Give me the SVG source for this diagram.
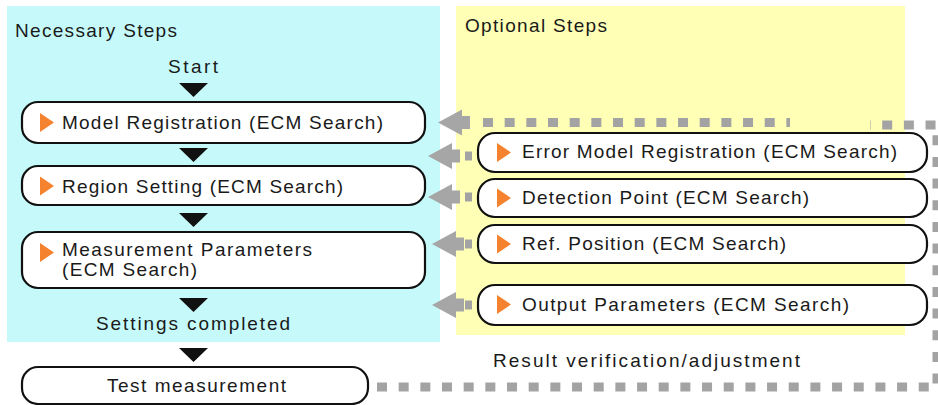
<svg xmlns="http://www.w3.org/2000/svg" xmlns:xlink="http://www.w3.org/1999/xlink" width="938" height="405" viewBox="0 0 938 405">
<style>
.t{font-family:"Liberation Sans",Arial,sans-serif;font-size:19px;fill:#1a1a1a}
.node{fill:#fff;stroke:#111;stroke-width:2.2}
.dash{fill:none;stroke:#a3a3a3;stroke-width:9;stroke-dasharray:10 11.67}
.garrow{fill:#a6a6a6}
.orange{fill:#f5822f}
.blk{fill:#111}
</style>
<defs>
<path id="otri" d="M0,-9.5 L14,0 L0,9.5 Z"/>
<path id="gar" d="M0,0 L24,-13 L24,-6.5 L32,-6.5 L32,6.5 L24,6.5 L24,13 Z"/>
<path id="btri" d="M-14.5,0 L14.5,0 L0,14 Z"/>
</defs>

<g id="panels">
<rect x="7" y="6" width="433" height="336" fill="#c6fafa"/>
<rect x="456" y="6" width="449" height="329" fill="#ffffb6"/>
<text class="t" x="15" y="37" textLength="162" lengthAdjust="spacing">Necessary Steps</text>
<text class="t" x="465" y="32" textLength="142" lengthAdjust="spacing">Optional Steps</text>
</g>

<g id="connectors">
<path class="dash" d="M483,122.5 H790"/>
<path class="dash" d="M377,387 H937 V125 H870"/>
<use href="#gar" class="garrow" x="438" y="122.5"/>
<use href="#gar" class="garrow" x="428" y="156"/>
<rect x="465" y="151.5" width="7" height="9" fill="#a3a3a3"/>
<use href="#gar" class="garrow" x="428" y="197"/>
<rect x="465" y="192.5" width="7" height="9" fill="#a3a3a3"/>
<use href="#gar" class="garrow" x="432" y="244"/>
<rect x="465" y="239.5" width="7" height="9" fill="#a3a3a3"/>
<use href="#gar" class="garrow" x="432" y="305"/>
<rect x="465" y="300.5" width="7" height="9" fill="#a3a3a3"/>
<use href="#btri" class="blk" x="193.5" y="83"/>
<use href="#btri" class="blk" x="193.5" y="148"/>
<use href="#btri" class="blk" x="193.5" y="213"/>
<use href="#btri" class="blk" x="193.5" y="298"/>
<use href="#btri" class="blk" x="193.5" y="348"/>
</g>

<g id="start">
<text class="t" x="168" y="73" textLength="50" lengthAdjust="spacing">Start</text>
</g>

<g id="model-registration">
<rect class="node" x="22" y="102" width="403" height="41" rx="16"/>
<use href="#otri" class="orange" x="40" y="122.5"/>
<text class="t" x="62" y="129" textLength="321" lengthAdjust="spacing">Model Registration (ECM Search)</text>
</g>

<g id="region-setting">
<rect class="node" x="22" y="166" width="403" height="39" rx="16"/>
<use href="#otri" class="orange" x="40" y="186"/>
<text class="t" x="62" y="192.5" textLength="281" lengthAdjust="spacing">Region Setting (ECM Search)</text>
</g>

<g id="measurement-parameters">
<rect class="node" x="22" y="232" width="403" height="56" rx="16"/>
<use href="#otri" class="orange" x="40" y="252.5"/>
<text class="t" x="62" y="255.5" textLength="250" lengthAdjust="spacing">Measurement Parameters</text>
<text class="t" x="62" y="275.5" textLength="135" lengthAdjust="spacing">(ECM Search)</text>
</g>

<g id="settings-completed">
<text class="t" x="96" y="330" textLength="194" lengthAdjust="spacing">Settings completed</text>
</g>

<g id="test-measurement">
<rect class="node" x="22" y="367" width="346" height="37" rx="16"/>
<text class="t" x="107" y="392" textLength="179" lengthAdjust="spacing">Test measurement</text>
</g>

<g id="error-model-registration">
<rect class="node" x="478" y="133" width="449" height="39" rx="17"/>
<use href="#otri" class="orange" x="497" y="152.5"/>
<text class="t" x="522" y="158" textLength="375" lengthAdjust="spacing">Error Model Registration (ECM Search)</text>
</g>

<g id="detection-point">
<rect class="node" x="478" y="179" width="449" height="38" rx="17"/>
<use href="#otri" class="orange" x="497" y="198"/>
<text class="t" x="522" y="203.5" textLength="287" lengthAdjust="spacing">Detection Point (ECM Search)</text>
</g>

<g id="ref-position">
<rect class="node" x="478" y="225" width="449" height="38" rx="17"/>
<use href="#otri" class="orange" x="497" y="244"/>
<text class="t" x="522" y="249.5" textLength="264" lengthAdjust="spacing">Ref. Position (ECM Search)</text>
</g>

<g id="output-parameters">
<rect class="node" x="478" y="285" width="449" height="40" rx="17"/>
<use href="#otri" class="orange" x="497" y="304.5"/>
<text class="t" x="522" y="311" textLength="327" lengthAdjust="spacing">Output Parameters (ECM Search)</text>
</g>

<g id="result-label">
<text class="t" x="493" y="367" textLength="307" lengthAdjust="spacing">Result verification/adjustment</text>
</g>
</svg>
